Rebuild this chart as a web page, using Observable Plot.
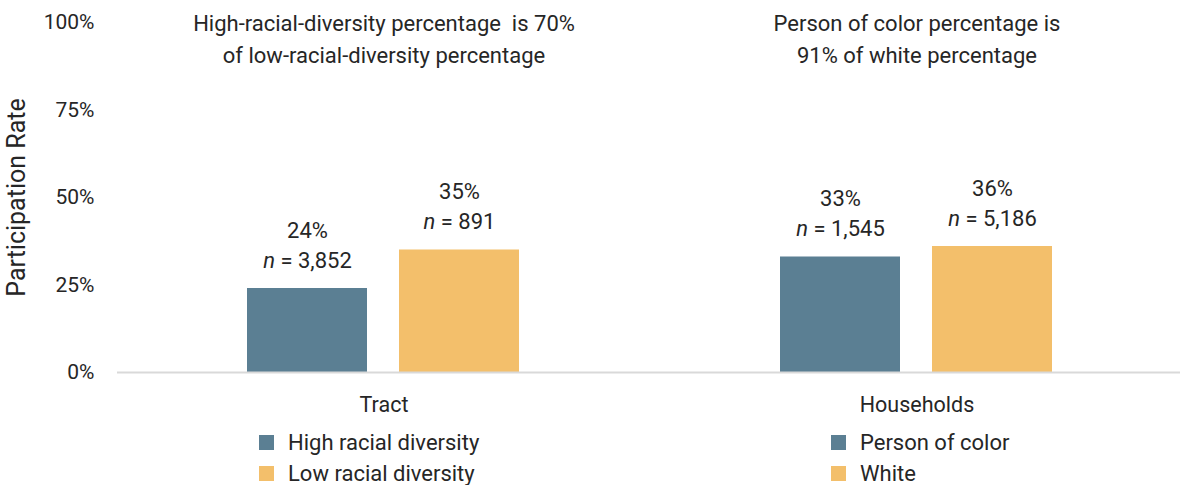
<!DOCTYPE html>
<html>
<head>
<meta charset="utf-8">
<script src="https://cdn.jsdelivr.net/npm/d3@7"></script>
<script src="https://cdn.jsdelivr.net/npm/@observablehq/plot@0.6"></script>
<style>
  html, body { margin: 0; padding: 0; background: #fff; }
  body { width: 1180px; height: 485px; overflow: hidden; font-family: Roboto, sans-serif; color: #262626; }
  #legend { position: relative; height: 65px; font-size: 22px; }
  .lg { position: absolute; top: 7px; }
  .row { display: flex; align-items: center; height: 31px; }
  .sw { width: 15px; height: 15px; margin-right: 14px; }
</style>
</head>
<body>
<div id="chart"></div>
<div id="legend"></div>
<script>
const groups = ["Tract", "Households"];
const tractSeries = ["High racial diversity", "Low racial diversity"];
const householdSeries = ["Person of color", "White"];
const tractValues = [0.24, 0.35];
const householdValues = [0.33, 0.36];
const tractN = ["3,852", "891"];
const householdN = ["1,545", "5,186"];
const groupNotes = [
  "High-racial-diversity percentage  is 70%\nof low-racial-diversity percentage",
  "Person of color percentage is\n91% of white percentage"
];
const yTicks = [0, 0.25, 0.5, 0.75, 1];
const colors = ["#5b7f93", "#f3bf6b"];

const rows = [];
tractSeries.forEach((s, i) => rows.push({group: groups[0], series: s, slot: i, value: tractValues[i], n: tractN[i]}));
householdSeries.forEach((s, i) => rows.push({group: groups[1], series: s, slot: i, value: householdValues[i], n: householdN[i]}));
const notes = groups.map((g, i) => ({group: g, note: groupNotes[i]}));
const pct = d3.format(".0%");
const font = "Roboto, sans-serif";

const plot = Plot.plot({
  width: 1180,
  height: 420,
  marginTop: 22,
  marginBottom: 48,
  marginLeft: 118,
  marginRight: 5,
  style: {fontFamily: font, fontSize: "21px", color: "#262626", background: "#fff"},
  fx: {domain: groups, padding: 0, range: [117, 1183]},
  x: {domain: [0, 1], type: "band", paddingInner: 0.2105, paddingOuter: 0.857, axis: null},
  y: {domain: [0, 1]},
  marks: [
    Plot.barY(rows, {fx: "group", x: "slot", y: "value", fill: d => colors[d.slot]}),
    Plot.ruleY([0], {stroke: "#d9d9d9", strokeWidth: 2}),
    Plot.text(rows, {
      fx: "group", x: "slot", y: "value",
      text: d => `${pct(d.value)}\nn = ${d.n}`,
      lineAnchor: "bottom", lineHeight: 1.36, dy: -21,
      fontSize: 22, fill: "#262626", className: "barlbl"
    }),
    Plot.text(notes, {
      fx: "group", frameAnchor: "top", text: "note",
      lineAnchor: "top", lineHeight: 1.45, dy: -14, fontSize: 22, fill: "#262626"
    }),
    Plot.axisY({
      ticks: yTicks, tickFormat: pct, tickSize: 0, tickPadding: 23,
      label: "Participation Rate", labelAnchor: "center", labelArrow: "none",
      labelOffset: 110, fontSize: 21
    }),
    Plot.axisFx({anchor: "bottom", tickSize: 0, tickPadding: 24, label: null, fontSize: 21.5})
  ]
});

// Larger axis title, italic "n" in bar labels
d3.select(plot).selectAll("g[aria-label='y-axis label'] text").attr("font-size", 25);
d3.select(plot).selectAll(".barlbl tspan").each(function() {
  const t = this.textContent;
  if (t.startsWith("n = ")) {
    const el = d3.select(this);
    el.text(null);
    el.append("tspan").attr("font-style", "italic").text("n");
    el.append("tspan").text(t.slice(1));
  }
});
document.getElementById("chart").appendChild(plot);

const legend = d3.select("#legend");
const blocks = [{left: 259, series: tractSeries}, {left: 831, series: householdSeries}];
blocks.forEach(b => {
  const lg = legend.append("div").attr("class", "lg").style("left", b.left + "px");
  b.series.forEach((s, i) => {
    const r = lg.append("div").attr("class", "row");
    r.append("div").attr("class", "sw").style("background", colors[i]);
    r.append("span").text(s);
  });
});
</script>
</body>
</html>
